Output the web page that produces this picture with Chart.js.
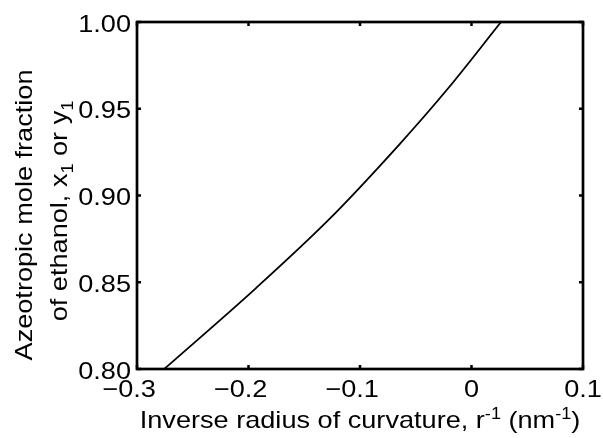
<!DOCTYPE html>
<html>
<head>
<meta charset="utf-8">
<script src="https://cdn.jsdelivr.net/npm/chart.js@4"></script>
<style>
  html, body { margin: 0; padding: 0; background: #fff; }
  #wrap { width: 603px; height: 438px; }
</style>
</head>
<body>
<div id="wrap"><canvas id="chart" width="603" height="438"></canvas></div>
<script>
  // curve: inverse radius (nm^-1) vs azeotropic mole fraction
  const invRadius = [-0.2756, -0.1935, -0.1278, -0.0646, -0.0213, 0.0265];
  const moleFrac  = [0.800, 0.8465, 0.8862, 0.9295, 0.9615, 1.000];

  const xTicks = [-0.3, -0.2, -0.1, 0, 0.1];
  const xTickLabels = ["\u22120.3", "\u22120.2", "\u22120.1", "0", "0.1"];
  const yTicks = [0.80, 0.85, 0.90, 0.95, 1.00];
  const yTickLabels = ["0.80", "0.85", "0.90", "0.95", "1.00"];

  const FONT = "'Liberation Sans', Arial, sans-serif";
  const SIZE = 24;
  const STRETCH = 1.13; // reference glyphs are wider than Liberation Sans

  function setFont(ctx, px) { ctx.font = px + "px " + FONT; }

  // width of a run list, in unstretched units
  function richWidth(ctx, runs, size) {
    const small = Math.round(size * 0.68);
    let total = 0;
    runs.forEach(function(r) {
      setFont(ctx, r.sub || r.sup ? small : size);
      r.w = ctx.measureText(r.t).width;
      total += r.w;
    });
    return total;
  }

  // draws a line of text with sub/superscript runs, centred on x=0 at the current transform
  function drawRich(ctx, runs, size) {
    const small = Math.round(size * 0.68);
    const total = richWidth(ctx, runs, size);
    ctx.save();
    ctx.scale(STRETCH, 1);
    let x = -total / 2;
    runs.forEach(function(r) {
      setFont(ctx, r.sub || r.sup ? small : size);
      const dy = r.sub ? size * 0.24 : (r.sup ? -size * 0.38 : 0);
      ctx.fillText(r.t, x, dy);
      x += r.w;
    });
    ctx.restore();
  }

  const framePlugin = {
    id: "frame",
    afterDraw: function(chart) {
      const ctx = chart.ctx;
      const a = chart.chartArea;
      const xs = chart.scales.x, ys = chart.scales.y;
      ctx.save();
      ctx.strokeStyle = "#000";
      ctx.lineWidth = 2.7;
      ctx.strokeRect(a.left, a.top, a.right - a.left, a.bottom - a.top);
      ctx.lineWidth = 2.5;
      const tl = 4;
      ctx.beginPath();
      xTicks.forEach(function(v) {
        const px = xs.getPixelForValue(v);
        ctx.moveTo(px, a.bottom); ctx.lineTo(px, a.bottom - tl);
        ctx.moveTo(px, a.top); ctx.lineTo(px, a.top + tl);
      });
      yTicks.forEach(function(v) {
        const py = ys.getPixelForValue(v);
        ctx.moveTo(a.left, py); ctx.lineTo(a.left + tl, py);
        ctx.moveTo(a.right, py); ctx.lineTo(a.right - tl, py);
      });
      ctx.stroke();

      ctx.fillStyle = "#000";
      ctx.textBaseline = "alphabetic";
      setFont(ctx, SIZE);

      // tick labels; a leading minus hangs to the left of the centred number
      ctx.textAlign = "left";
      xTicks.forEach(function(v, i) {
        const lab = xTickLabels[i];
        const neg = lab.charAt(0) === "\u2212";
        const num = neg ? lab.slice(1) : lab;
        const wNum = ctx.measureText(num).width * STRETCH;
        const wMin = neg ? ctx.measureText("\u2212").width * STRETCH : 0;
        const px = xs.getPixelForValue(v);
        ctx.save();
        ctx.translate(px - wNum / 2 - wMin, a.bottom + 28);
        ctx.scale(STRETCH, 1);
        ctx.fillText(lab, 0, 0);
        ctx.restore();
      });
      yTicks.forEach(function(v, i) {
        const lab = yTickLabels[i];
        const w = ctx.measureText(lab).width * STRETCH;
        const py = ys.getPixelForValue(v);
        ctx.save();
        ctx.translate(a.left - 6 - w, py + 9.5);
        ctx.scale(STRETCH, 1);
        ctx.fillText(lab, 0, 0);
        ctx.restore();
      });

      // axis titles
      ctx.save();
      ctx.translate((a.left + a.right) / 2, 428);
      drawRich(ctx, [
        { t: "Inverse radius of curvature, r" }, { t: "-1", sup: true },
        { t: " (nm" }, { t: "-1", sup: true }, { t: ")" }
      ], SIZE);
      ctx.restore();

      ctx.save();
      ctx.translate(32, 215);
      ctx.rotate(-Math.PI / 2);
      drawRich(ctx, [{ t: "Azeotropic mole fraction" }], SIZE);
      ctx.restore();

      ctx.save();
      ctx.translate(67, 211);
      ctx.rotate(-Math.PI / 2);
      drawRich(ctx, [
        { t: "of ethanol, x" }, { t: "1", sub: true },
        { t: " or y" }, { t: "1", sub: true }
      ], SIZE);
      ctx.restore();
      ctx.restore();
    }
  };

  new Chart(document.getElementById("chart"), {
    type: "line",
    data: {
      datasets: [{
        data: invRadius.map(function(x, i) { return { x: x, y: moleFrac[i] }; }),
        borderColor: "#000",
        borderWidth: 1.8,
        pointRadius: 0,
        fill: false,
        cubicInterpolationMode: "monotone"
      }]
    },
    options: {
      responsive: false,
      animation: false,
      devicePixelRatio: 1,
      layout: { padding: { top: 22, right: 20, left: 0, bottom: 0 } },
      plugins: { legend: { display: false }, tooltip: { enabled: false } },
      scales: {
        x: {
          type: "linear", min: -0.3, max: 0.1,
          afterBuildTicks: function(s) { s.ticks = xTicks.map(function(v) { return { value: v }; }); },
          afterFit: function(s) { s.height = 69; },
          grid: { display: false, drawTicks: false },
          border: { display: false },
          ticks: { display: false }
        },
        y: {
          min: 0.8, max: 1.0,
          afterBuildTicks: function(s) { s.ticks = yTicks.map(function(v) { return { value: v }; }); },
          afterFit: function(s) { s.width = 137; },
          grid: { display: false, drawTicks: false },
          border: { display: false },
          ticks: { display: false }
        }
      }
    },
    plugins: [framePlugin]
  });
</script>
</body>
</html>
